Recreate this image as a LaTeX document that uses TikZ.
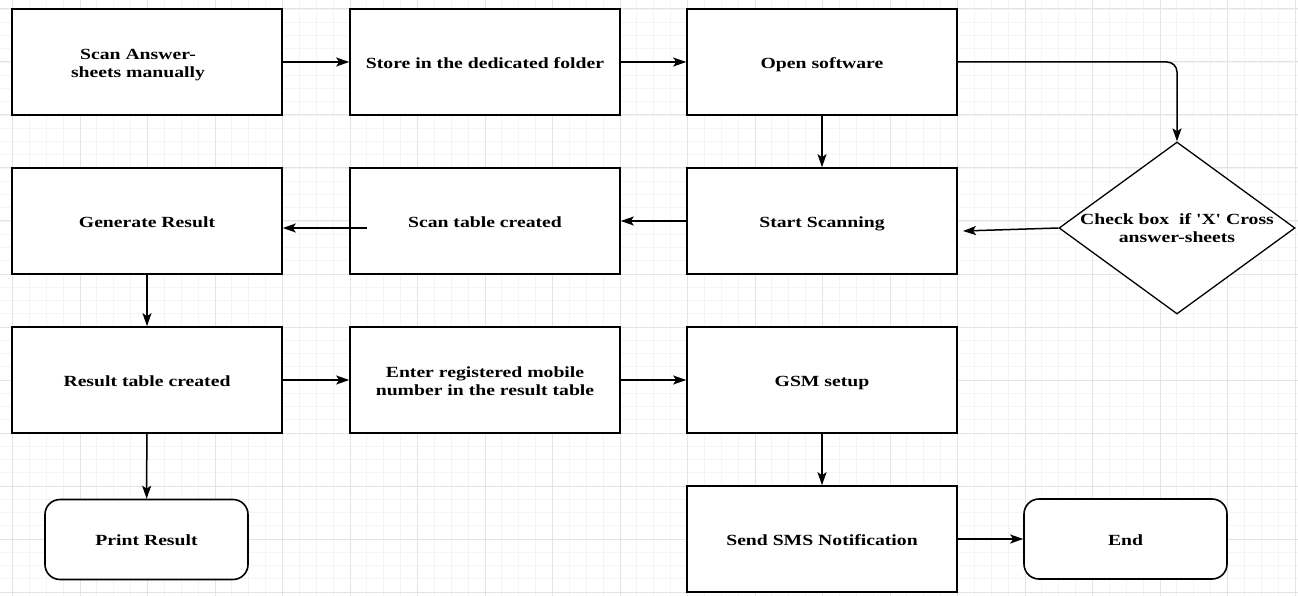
\documentclass[tikz,border=0pt]{standalone}
\usepackage{graphicx}
\usepackage{fontspec}
\usetikzlibrary{shapes.geometric,arrows.meta}
\newfontfamily\lblfont{Liberation Serif}[Ligatures=TeXOff]
% labels are set wide, as the flowchart's text is stretched sideways,
% and sit a little below the box centre
\newcommand\wtxt[1]{\raisebox{-2.5pt}[\height][\depth]{\scalebox{1.27}[1]{\begin{tabular}{@{}c@{}}#1\end{tabular}}}}
\definecolor{minorline}{HTML}{F4F4F4}
\definecolor{majorline}{HTML}{E4E4E4}
\tikzset{
  boxnode/.style={draw, line width=1.6pt, fill=white, minimum width=270pt,
    minimum height=106pt, inner sep=0pt,
    font=\lblfont\bfseries\fontsize{15.5}{18}\selectfont},
  termnode/.style={boxnode, rounded corners=15pt, minimum width=203pt, minimum height=80pt},
  decnode/.style={draw, line width=1.3pt, fill=white, shape=diamond, minimum width=236pt,
    minimum height=172pt, inner sep=0pt},
  textnode/.style={inner sep=0pt, font=\lblfont\bfseries\fontsize{15.5}{18}\selectfont},
  arr/.style={line width=1.5pt, -{Stealth[length=13pt,width=9pt,inset=3pt]}},
  minorgrid/.style={draw=minorline, line width=0.9pt},
  majorgrid/.style={draw=majorline, line width=1pt}
}
\begin{document}
\begin{tikzpicture}[x=1pt, y=-1pt]
\useasboundingbox (0,0) rectangle (1298,596);
\clip (0,0) rectangle (1298,596);
\fill[white] (0,0) rectangle (1298,596);
% background grid
\foreach \k in {-1,...,76} \draw[minorgrid] ({12.5+16.875*\k},0) -- ({12.5+16.875*\k},596);
\foreach \k in {-1,...,44} \draw[minorgrid] (0,{9+13.25*\k}) -- (1298,{9+13.25*\k});
\foreach \k in {0,...,19} \draw[majorgrid] ({12.5+67.5*\k},0) -- ({12.5+67.5*\k},596);
\foreach \k in {0,...,11} \draw[majorgrid] (0,{9+53*\k}) -- (1298,{9+53*\k});

% process steps
\node[boxnode] (scan)   at (147,62)  {\wtxt{Scan Answer-\\sheets manually}\hspace*{18pt}};
\node[boxnode] (store)  at (485,62)  {\wtxt{Store in the dedicated folder}};
\node[boxnode] (open)   at (822,62)  {\wtxt{Open software}};
\node[boxnode] (gen)    at (147,221) {\wtxt{Generate Result}};
\node[boxnode] (stable) at (485,221) {\wtxt{Scan table created}};
\node[boxnode] (start)  at (822,221) {\wtxt{Start Scanning}};
\node[boxnode] (res)    at (147,380) {\wtxt{Result table created}};
\node[boxnode] (enter)  at (485,380) {\wtxt{Enter registered mobile\\number in the result table}};
\node[boxnode] (gsm)    at (822,380) {\wtxt{GSM setup}};
\node[boxnode] (sms)    at (822,539) {\wtxt{Send SMS Notification}};
\node[termnode] (print) at (146.5,539.5) {\wtxt{Print Result}};
\node[termnode] (finish) at (1125.5,539) {\wtxt{End}};

% decision
\node[decnode] (dia) at (1177,228) {};
\node[textnode] (diatext) at (1177,227) {\wtxt{Check box\ \ if 'X' Cross\\answer-sheets}};

% free ends of two connectors
\coordinate (startin) at (963,231);
\coordinate (stableout) at (367,228);

% connectors
\draw[arr] (scan) -- (store);
\draw[arr] (store) -- (open);
\draw[arr, rounded corners=10pt] (open.east) -| (dia.north);
\draw[arr] (open) -- (start);
\draw[arr] (dia.west) -- (startin);
\draw[arr] (start) -- (stable);
\draw[arr] (stableout) -- (stableout -| gen.east);
\draw[arr] (gen) -- (res);
\draw[arr] (res) -- (enter);
\draw[arr] (enter) -- (gsm);
\draw[arr] (res) -- (print);
\draw[arr] (gsm) -- (sms);
\draw[arr] (sms) -- (finish);
\end{tikzpicture}
\end{document}
